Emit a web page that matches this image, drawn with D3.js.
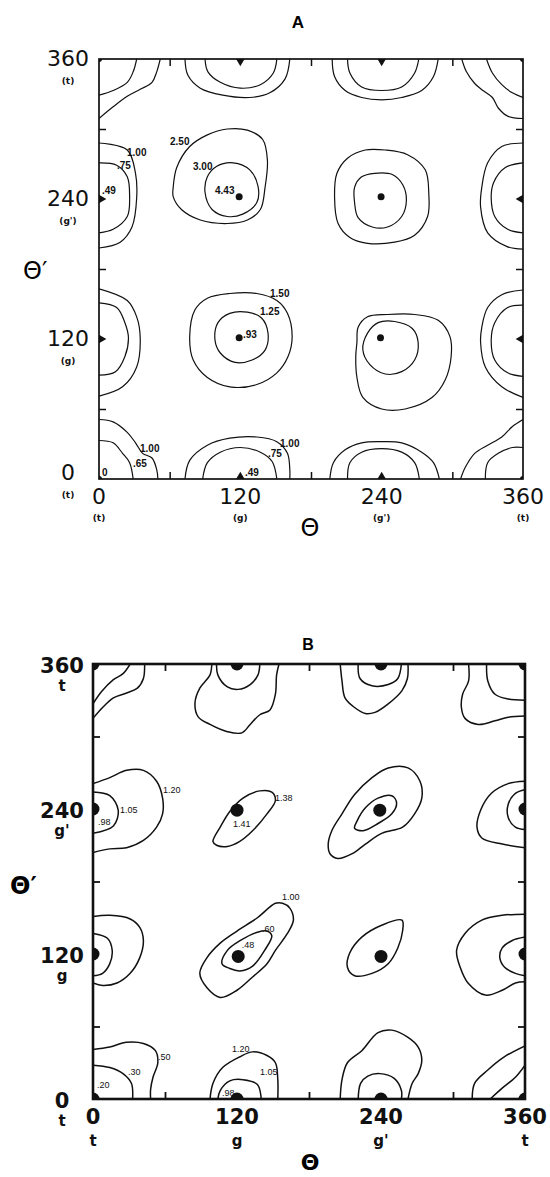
<!DOCTYPE html>
<html>
<head>
<meta charset="utf-8">
<script src="https://cdn.jsdelivr.net/npm/d3@7"></script>
<style>
  body { margin: 0; background: #fff; }
  svg { display: block; }
</style>
</head>
<body>
<div id="chart"></div>
<script>
// Conformational energy maps (theta vs theta'), two panels A and B

const width = 550, height = 1177;

const majorTicks = [0, 120, 240, 360];
const minorTicks = [60, 180, 300];
const confA = ["(t)", "(g)", "(g')", "(t)"];
const confB = ["t", "g", "g'", "t"];

// contour pieces that run into the frame, [theta, theta'] in degrees
const edgeA = [
  [[0,51],[12,49],[24,40],[31,31],[37,22],[45,18],[49,8],[50,0]],
  [[0,33],[12,31],[20,22],[26,14],[29,0]],
  [[52,360],[49,349],[45,340],[35,334],[24,328],[12,319],[0,309]],
  [[32,360],[29,349],[24,340],[12,333],[0,329]],
  [[308,360],[312,349],[319,339],[326,333],[334,327],[339,318],[347,311],[360,309]],
  [[329,360],[334,348],[342,338],[351,331],[360,327]],
  [[307,0],[311,10],[319,22],[330,29],[342,36],[351,45],[360,51]],
  [[328,0],[330,14],[339,22],[351,27],[360,27]],
  [[73,0],[77,16],[92,29],[111,35],[134,36],[151,32],[160,22],[162,8],[162,0]],
  [[88,0],[92,14],[103,23],[120,27],[137,23],[147,15],[151,0]],
  [[73,360],[75.5,346],[86,335],[105,329],[128,327],[145,331],[158,343],[162,360]],
  [[90,360],[92.5,349],[103,340],[120,335],[137,338],[148,348],[151,360]],
  [[196,0],[199,14],[209,25],[223,31],[240,32],[257,31],[274,23],[284,14],[289,0]],
  [[211,0],[213,14],[223,23],[240,26],[257,23],[268,14],[272,0]],
  [[198,360],[200,345],[209,333],[223,327],[240,325],[257,327],[274,333],[284,345],[288,360]],
  [[211,360],[213,348],[223,336],[240,333],[257,336],[268,348],[271.5,360]],
  [[0,163],[24,153],[32,139],[35,121],[32,96],[20,79],[0,71]],
  [[0,151],[15,147],[22,134],[25,121],[22,105],[14,92],[0,89]],
  [[360,162],[342,158],[330,147],[325,130],[324,117],[328,96],[342,79],[360,70]],
  [[360,149],[347,147],[336,134],[333,119],[336,102],[347,91],[360,88]],
  [[0,288],[24,282],[31,262],[32,241],[28,216],[18,203],[0,198]],
  [[0,271],[15,269],[24,259],[26,242],[24,225],[12,214],[0,211]],
  [[360,288],[342,285],[330,271],[325,250],[324,233],[330,211],[347,199],[360,197]],
  [[360,271],[345,267],[335,254],[333,241],[336,225],[347,214],[360,211]]
];

// closed contours inside panel A
const loopsA = [
  [[92,259],[100,268],[114,271],[128,265],[135,251],[134,237],[122,227],[109,225],[96,231],[90,246]],
  [[63,250],[66,267],[77,285],[92,295],[109,300],[126,299],[139,291],[143,273],[141,250],[137,231],[126,222],[109,219],[86,222],[70,231],[63,242]],
  [[217,250],[223,259],[234,262],[249,261],[258,252],[261,239],[257,225],[245,216],[232,216],[220,224],[217,237]],
  [[200,242],[202,262],[211,275],[226,282],[243,282],[262,278],[277,265],[280,245],[279,225],[268,209],[251,203],[228,202],[213,207],[203,219]],
  [[98.5,119],[101,134],[111,142],[126,143],[138,138],[143.5,125],[141,110.5],[130,102],[115.5,100],[103,108]],
  [[77,122],[81.5,145],[92,155],[111,159],[134,159],[151,153],[160,142],[164,122],[160.5,105],[151,91],[134,81],[111,79],[92,87],[80,102]],
  [[224,111],[228,125],[237,134],[251,135],[266,129],[271,117],[268,102],[257,92],[243,90],[230,98]],
  [[219,117],[220,130],[228,139],[245,141],[268,141],[288,136],[298,122],[299,105],[294,85],[283,70],[260,60],[240,60],[224,70],[219,87],[218,105]]
];

const edgeB = [
  [[0,41],[14,43],[28,47],[42,46],[52,40],[54,30],[50,18],[48,8],[48,0]],
  [[0,28],[14,26],[25,21],[32,13],[33,0]],
  [[43,360],[42,348],[37,340],[28,336],[17,332],[8,324],[0,315]],
  [[31,360],[25,352],[17,347],[7,337],[0,327]],
  [[313,360],[313,346],[308,335],[307,324],[310,315],[321,310],[335,313],[346,316],[360,317]],
  [[328,360],[329,346],[335,335],[346,331],[360,330]],
  [[316,0],[318,13],[329,24],[343,35],[360,44]],
  [[331,0],[341,9],[352,18],[360,28]],
  [[97.5,0],[100,13],[108,26],[122.5,35],[133,39],[145,36],[152,30],[154,16],[154,0]],
  [[104,0],[106,7],[114,15],[125,16],[137,12],[140,2],[140,0]],
  [[99,360],[97.5,351],[89,340],[85,328],[87.5,316.5],[97.5,310],[112,304],[124,303],[131,310],[139,318],[147.5,322],[152,335],[153,351],[155,360]],
  [[103,360],[104,351],[112,341],[121,339],[131,343],[137.5,351],[139,360]],
  [[206,0],[207.5,16],[212,30],[224,40],[237.5,55],[249,57],[262.5,51],[271,43],[274,32],[271,21],[266,13],[262.5,0]],
  [[221,0],[223,13],[229,19],[239,21],[251,17],[257,7],[257,0]],
  [[206,360],[207.5,346],[210,332],[218,324],[227,319],[235,320],[246,327],[257.5,338],[262,348],[262.5,360]],
  [[221,360],[222.5,348],[232.5,342],[246,343],[254,348],[257,360]],
  [[0,151],[14,152],[31,149],[39,142],[42,131],[39,117],[31,104],[20,96],[8,94],[0,96]],
  [[0,137],[12,133],[16,123],[14,112],[8,104],[0,102]],
  [[360,153],[341,152],[324,148],[310,137],[303,123],[306,109],[312.5,96],[327,86],[341,90],[352,96],[360,97]],
  [[360,134],[349,131],[341,125],[339,117],[343,109],[352,104],[360,102]],
  [[0,261],[14,266],[28,272],[42,272],[53,263],[58,249],[58,236],[53,225],[42,214],[28,208],[14,207],[0,204]],
  [[0,254],[14,251],[21,239],[17,226],[0,220]],
  [[360,263],[346,261],[332,253],[323,239],[320,225],[324,216],[341,211],[360,208]],
  [[360,256],[352,253],[346,244],[346,233],[352,225],[360,223]]
];

const loopsB = [
  [[100,213],[106,225],[114,238],[125,249],[139,255],[149,254],[152,247],[145,236],[133,222],[122,213],[112,209],[103,210]],
  [[218,224],[220,230],[227,241],[237.5,249],[249,251],[253,245],[249,236],[237.5,228],[225,222]],
  [[196,211],[199,222],[207.5,236],[218,252],[232.5,266],[246,274],[262.5,274],[272.5,263],[274,249],[268,236],[258,225],[241,220],[227,211],[216,203],[204,199],[197.5,203]],
  [[107.5,112],[112,123],[122.5,131],[137,138],[145,139],[149,135],[143,123],[133,110],[122.5,106],[114,108]],
  [[89,104],[95,117],[106,129],[120,139],[137,150],[152,162],[158,162],[164,158],[167,148],[162,137],[152,123],[145,112],[133,101],[120,90],[106,84],[95,92]],
  [[212,109],[214,121],[224,134],[241,144],[257.5,148],[258,139],[254,125],[246,112],[232.5,104],[218,102]]
];

// energy minima
const minA = [[0,0],[120,0],[240,0],[360,0],[0,120],[119,121],[239,121],[360,120],
              [0,240],[119,242],[239.5,242],[360,240],[0,360],[120,360],[240,360],[360,360]];
const minB = [[0,0],[120,0],[240,0],[360,0],[0,120],[121,118],[240,118],[360,120],
              [0,240],[120,239],[239,239],[360,240],[0,360],[120,360],[240,360],[360,360]];

// contour level labels [theta, theta', text]
const notesA = [
  [60.3,286.3,"2.50"],[79.8,264.9,"3.00"],[98.5,244.3,"4.43"],
  [23.8,276.9,"1.00"],[15.3,265.7,".75"],[2.5,244.3,".49"],
  [145.2,156,"1.50"],[136.7,140.6,"1.25"],[122.3,120.9,".93"],
  [34.8,23.1,"1.00"],[28.9,10.3,".65"],[2.5,2.6,"0"],
  [153.7,27.4,"1.00"],[143.5,18.9,".75"],[124,2.6,".49"]
];
const notesB = [
  [58.3,253.5,"1.20"],[22.5,237,"1.05"],[4.2,227,".98"],
  [151.7,246.9,"1.38"],[116.7,225.4,"1.41"],
  [157.5,165.1,"1.00"],[140.8,137.9,".60"],[124,124.7,".48"],
  [115.8,38.8,"1.20"],[139.2,19.8,"1.05"],[107.5,2.5,".98"],
  [3.3,9.1,".20"],[29.2,19.8,".30"],[54.2,32.2,".50"]
];

const svg = d3.select("#chart").append("svg")
  .attr("width", width)
  .attr("height", height);

const panels = [
  { id: "A", left: 99, right: 523, top: 59, bottom: 479,
    edges: edgeA, loops: loopsA, mins: minA, notes: notesA, conf: confA,
    lw: 1.2, frameW: 1.7, dotR: 3.5,
    tickFont: "22px 'DejaVu Sans'",
    subFont: "bold 9px 'DejaVu Sans'",
    noteFont: "bold 10px 'Liberation Sans'",
    yLabX: 68, yLabDy: d => d === 0 ? 1 : 7, ySubDy: 18,
    xLabY: 504, xSubY: 521,
    title: [298, 28], titleSize: 17,
    axX: [310, 536, "normal 24px 'DejaVu Sans'"], axY: [23, 279, "normal 24px 'DejaVu Sans'"] },
  { id: "B", left: 93, right: 525, top: 664, bottom: 1099,
    edges: edgeB, loops: loopsB, mins: minB, notes: notesB, conf: confB,
    lw: 1.5, frameW: 2.6, dotR: 6.5,
    tickFont: "bold 21px 'DejaVu Sans'",
    subFont: "bold 15px 'DejaVu Sans'",
    noteFont: "9px 'Liberation Sans'",
    yLabX: 62, yLabDy: d => 9, ySubDy: 18,
    xLabY: 1124, xSubY: 1146,
    title: [308, 650], titleSize: 16,
    axX: [310, 1170, "bold 22px 'DejaVu Sans'"], axY: [10, 894, "bold 24px 'DejaVu Sans'"] }
];

panels.forEach(drawPanel);

function drawPanel(p) {
  const x = d3.scaleLinear().domain([0, 360]).range([p.left, p.right]);
  const y = d3.scaleLinear().domain([0, 360]).range([p.bottom, p.top]);
  const g = svg.append("g");

  svg.append("clipPath").attr("id", "clip" + p.id)
    .append("rect")
    .attr("x", p.left).attr("y", p.top)
    .attr("width", p.right - p.left).attr("height", p.bottom - p.top);

  const plot = g.append("g").attr("clip-path", `url(#clip${p.id})`);

  const openLine = d3.line().x(d => x(d[0])).y(d => y(d[1]))
    .curve(d3.curveCatmullRom.alpha(0.5));
  const loopLine = d3.line().x(d => x(d[0])).y(d => y(d[1]))
    .curve(d3.curveCatmullRomClosed.alpha(0.5));

  plot.selectAll("path.edge").data(p.edges).join("path")
    .attr("class", "edge")
    .attr("d", openLine)
    .attr("fill", "none").attr("stroke", "#111").attr("stroke-width", p.lw);

  plot.selectAll("path.loop").data(p.loops).join("path")
    .attr("class", "loop")
    .attr("d", loopLine)
    .attr("fill", "none").attr("stroke", "#111").attr("stroke-width", p.lw);

  // minima markers (clipped by the frame)
  p.mins.forEach(([a, b]) => {
    const onX = a === 0 || a === 360, onY = b === 0 || b === 360;
    if (p.id === "A" && onX !== onY) {
      const rot = b === 0 ? 0 : b === 360 ? 180 : a === 0 ? 90 : -90;
      plot.append("path")
        .attr("d", d3.symbol(d3.symbolTriangle, 70)())
        .attr("transform", `translate(${x(a)},${y(b)}) rotate(${rot})`)
        .attr("fill", "#111");
    } else {
      plot.append("circle")
        .attr("cx", x(a)).attr("cy", y(b))
        .attr("r", p.id === "A" && onX ? 3 : p.dotR)
        .attr("fill", "#111");
    }
  });

  // frame
  g.append("rect")
    .attr("x", p.left).attr("y", p.top)
    .attr("width", p.right - p.left).attr("height", p.bottom - p.top)
    .attr("fill", "none").attr("stroke", "#111").attr("stroke-width", p.frameW);

  // inward minor ticks on all four sides
  const tk = 7;
  const axes = [
    [d3.axisBottom(x), `translate(0,${p.bottom})`],
    [d3.axisTop(x), `translate(0,${p.top})`],
    [d3.axisLeft(y), `translate(${p.left},0)`],
    [d3.axisRight(y), `translate(${p.right},0)`]
  ];
  axes.forEach(([ax, tr]) => {
    const a = g.append("g").attr("transform", tr)
      .call(ax.tickValues(minorTicks).tickSize(-tk).tickFormat(""));
    a.select(".domain").remove();
    a.selectAll("line").attr("stroke", "#111").attr("stroke-width", p.lw + 0.3);
  });

  // contour level labels
  g.selectAll("text.note").data(p.notes).join("text")
    .attr("class", "note")
    .attr("x", d => x(d[0])).attr("y", d => y(d[1]))
    .style("font", p.noteFont).attr("fill", "#111")
    .text(d => d[2]);

  // tick labels
  g.selectAll("text.xl").data(majorTicks).join("text")
    .attr("class", "xl")
    .attr("x", d => x(d)).attr("y", p.xLabY)
    .attr("text-anchor", "middle").style("font", p.tickFont).attr("fill", "#111")
    .text(d => d);
  g.selectAll("text.xs").data(majorTicks).join("text")
    .attr("class", "xs")
    .attr("x", d => x(d)).attr("y", p.xSubY)
    .attr("text-anchor", "middle").style("font", p.subFont).attr("fill", "#111")
    .text((d, i) => p.conf[i]);
  g.selectAll("text.yl").data(majorTicks).join("text")
    .attr("class", "yl")
    .attr("x", p.yLabX).attr("y", d => y(d) + p.yLabDy(d))
    .attr("text-anchor", "middle").style("font", p.tickFont).attr("fill", "#111")
    .text(d => d);
  g.selectAll("text.ys").data(majorTicks).join("text")
    .attr("class", "ys")
    .attr("x", p.yLabX).attr("y", d => y(d) + p.yLabDy(d) + p.ySubDy)
    .attr("text-anchor", "middle").style("font", p.subFont).attr("fill", "#111")
    .text((d, i) => p.conf[i]);

  // axis titles and panel letter
  g.append("text").attr("x", p.axX[0]).attr("y", p.axX[1])
    .attr("text-anchor", "middle").style("font", p.axX[2]).text("Θ");
  g.append("text").attr("x", p.axY[0]).attr("y", p.axY[1])
    .style("font", p.axY[2]).text("Θ′");
  g.append("text").attr("x", p.title[0]).attr("y", p.title[1])
    .attr("text-anchor", "middle")
    .style("font", `bold ${p.titleSize}px 'Liberation Sans'`)
    .text(p.id);
}
</script>
</body>
</html>
